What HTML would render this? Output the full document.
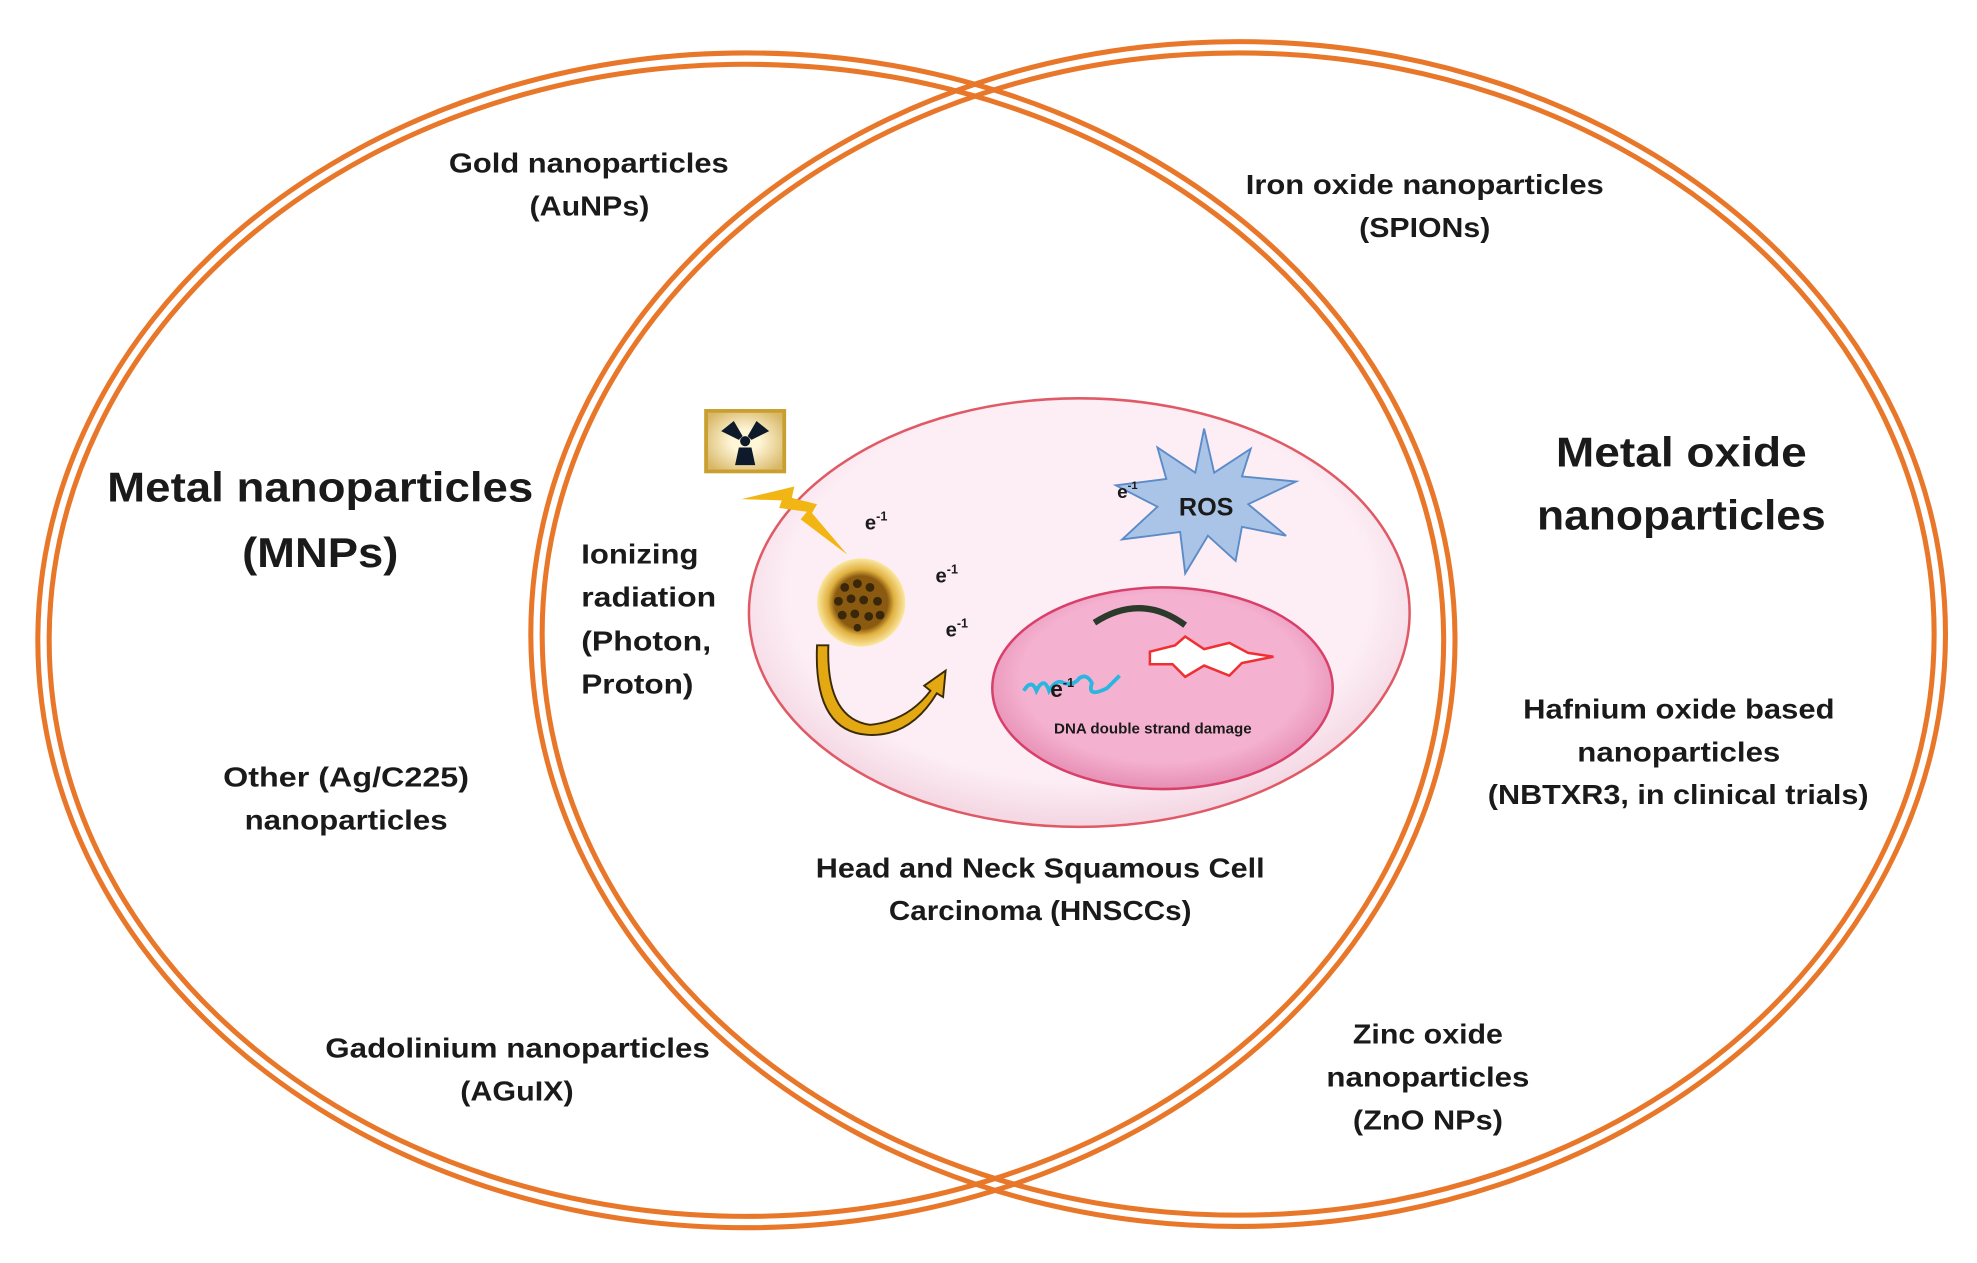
<!DOCTYPE html>
<html><head><meta charset="utf-8"><style>
html,body{margin:0;padding:0;background:#fff;}
svg{display:block;}
text{font-family:"Liberation Sans",sans-serif;font-weight:bold;fill:#1a1a1a;}
</style></head><body>
<svg width="1977" height="1263" viewBox="0 0 1568 1002" preserveAspectRatio="none" xmlns="http://www.w3.org/2000/svg">
<defs>
<radialGradient id="cell" cx="50%" cy="45%" r="55%"><stop offset="0.8" stop-color="#fdeef5"/><stop offset="1" stop-color="#f3d6e2"/></radialGradient>
<radialGradient id="nuc" cx="50%" cy="45%" r="55%"><stop offset="0.75" stop-color="#f5b2d0"/><stop offset="1" stop-color="#e68fb4"/></radialGradient>
<radialGradient id="np" cx="50%" cy="50%" r="50%"><stop offset="0.6" stop-color="#8a5a10"/><stop offset="0.75" stop-color="#e0b040"/><stop offset="1" stop-color="#fbe7a0"/></radialGradient>
<radialGradient id="icon" cx="50%" cy="50%" r="60%"><stop offset="0.3" stop-color="#fff6d8"/><stop offset="1" stop-color="#d8b868"/></radialGradient>
</defs>
<g fill="none" stroke="#E8772A" stroke-width="4">
<ellipse cx="592" cy="508" rx="562" ry="466"/>
<ellipse cx="592" cy="508" rx="553" ry="457"/>
<ellipse cx="982" cy="503" rx="561" ry="470"/>
<ellipse cx="982" cy="503" rx="552" ry="461"/>
</g>
<ellipse cx="856" cy="486" rx="262" ry="170" fill="url(#cell)" stroke="#e05a66" stroke-width="2"/>
<ellipse cx="922" cy="546" rx="135" ry="80" fill="url(#nuc)" stroke="#d8406a" stroke-width="2"/>
<path d="M868,494 Q905,470 940,496" fill="none" stroke="#2c3a2c" stroke-width="5"/>
<polygon points="912,517 932,512 940,505 955,515 975,510 990,518 1010,521 985,526 975,536 955,528 940,537 930,527 912,527" fill="#fff" stroke="#f03030" stroke-width="2"/>
<path d="M812,548 q6,-10 10,0 q6,-12 10,0 q6,-10 12,-6 q8,2 12,-4 q6,-4 10,4 q-4,12 12,4 q6,-6 10,-10" fill="none" stroke="#29b6e0" stroke-width="3"/>
<text x="833" y="553" font-size="18">e<tspan font-size="10" dy="-8">-1</tspan></text>
<text x="836" y="582" font-size="12">DNA double strand damage</text>
<polygon points="955,340 963,375 992,356 985,378 1028,382 990,400 1020,425 985,418 980,445 958,425 940,455 936,422 890,428 918,402 885,385 925,380 918,355 948,375" fill="#a9c4e6" stroke="#5b8bc8" stroke-width="1.5"/>
<text x="935" y="409" font-size="20">ROS</text>
<text x="886" y="395" font-size="15" font-family="Liberation Serif">e<tspan font-size="9" dy="-7">-1</tspan></text>
<rect x="560" y="326" width="62" height="48" fill="url(#icon)" stroke="#c9a030" stroke-width="3"/>
<g fill="#0e1a2a"><circle cx="591" cy="350" r="4"/>
<polygon points="572,342 582,334 589,346 586,349"/><polygon points="610,342 600,334 593,346 596,349"/><polygon points="586,355 596,355 599,369 583,369"/></g>
<polygon points="588,396 630,386 628,395 648,400 644,407 672,440 635,412 640,406 618,403 620,397" fill="#f2b614"/>
<circle cx="683" cy="478" r="35" fill="url(#np)"/>
<g fill="#3a2608"><circle cx="670" cy="466" r="3.5"/><circle cx="680" cy="463" r="3.5"/><circle cx="690" cy="466" r="3.5"/><circle cx="665" cy="477" r="3.5"/><circle cx="675" cy="475" r="3.5"/><circle cx="685" cy="476" r="3.5"/><circle cx="696" cy="477" r="3.5"/><circle cx="668" cy="488" r="3.5"/><circle cx="678" cy="487" r="3.5"/><circle cx="689" cy="489" r="3.5"/><circle cx="698" cy="488" r="3.5"/><circle cx="680" cy="498" r="3"/></g>
<path d="M657,512 Q655,570 690,575 Q720,572 738,548 L733,544 L750,532 L748,553 L743,550 Q722,585 688,583 Q645,580 648,512 Z" fill="#e3a812" stroke="#3a2a08" stroke-width="1.5"/>
<text x="686" y="420" font-size="16" font-family="Liberation Serif">e<tspan font-size="10" dy="-7">-1</tspan></text>
<text x="742" y="462" font-size="16" font-family="Liberation Serif">e<tspan font-size="10" dy="-7">-1</tspan></text>
<text x="750" y="505" font-size="16" font-family="Liberation Serif">e<tspan font-size="10" dy="-7">-1</tspan></text>
<g font-size="33" lengthAdjust="spacingAndGlyphs">
<text x="85" y="398" textLength="338" lengthAdjust="spacingAndGlyphs">Metal nanoparticles</text>
<text x="192" y="450" textLength="124" lengthAdjust="spacingAndGlyphs">(MNPs)</text>
<text x="1234" y="370" textLength="199" lengthAdjust="spacingAndGlyphs">Metal oxide</text>
<text x="1219" y="420" textLength="229" lengthAdjust="spacingAndGlyphs">nanoparticles</text>
</g>
<g font-size="22">
<text x="356" y="137" textLength="222" lengthAdjust="spacingAndGlyphs">Gold nanoparticles</text>
<text x="420" y="171" textLength="95" lengthAdjust="spacingAndGlyphs">(AuNPs)</text>
<text x="988" y="154" textLength="284" lengthAdjust="spacingAndGlyphs">Iron oxide nanoparticles</text>
<text x="1078" y="188" textLength="104" lengthAdjust="spacingAndGlyphs">(SPIONs)</text>
<text x="177" y="624" textLength="195" lengthAdjust="spacingAndGlyphs">Other (Ag/C225)</text>
<text x="194" y="658" textLength="161" lengthAdjust="spacingAndGlyphs">nanoparticles</text>
<text x="258" y="839" textLength="305" lengthAdjust="spacingAndGlyphs">Gadolinium nanoparticles</text>
<text x="365" y="873" textLength="90" lengthAdjust="spacingAndGlyphs">(AGuIX)</text>
<text x="1208" y="570" textLength="247" lengthAdjust="spacingAndGlyphs">Hafnium oxide based</text>
<text x="1251" y="604" textLength="161" lengthAdjust="spacingAndGlyphs">nanoparticles</text>
<text x="1180" y="638" textLength="302" lengthAdjust="spacingAndGlyphs">(NBTXR3, in clinical trials)</text>
<text x="647" y="696" textLength="356" lengthAdjust="spacingAndGlyphs">Head and Neck Squamous Cell</text>
<text x="705" y="730" textLength="240" lengthAdjust="spacingAndGlyphs">Carcinoma (HNSCCs)</text>
<text x="1073" y="828" textLength="119" lengthAdjust="spacingAndGlyphs">Zinc oxide</text>
<text x="1052" y="862" textLength="161" lengthAdjust="spacingAndGlyphs">nanoparticles</text>
<text x="1073" y="896" textLength="119" lengthAdjust="spacingAndGlyphs">(ZnO NPs)</text>
<text x="461" y="447" textLength="93" lengthAdjust="spacingAndGlyphs">Ionizing</text>
<text x="461" y="481" textLength="107" lengthAdjust="spacingAndGlyphs">radiation</text>
<text x="461" y="516" textLength="103" lengthAdjust="spacingAndGlyphs">(Photon,</text>
<text x="461" y="550" textLength="89" lengthAdjust="spacingAndGlyphs">Proton)</text>
</g>
</svg>
</body></html>
